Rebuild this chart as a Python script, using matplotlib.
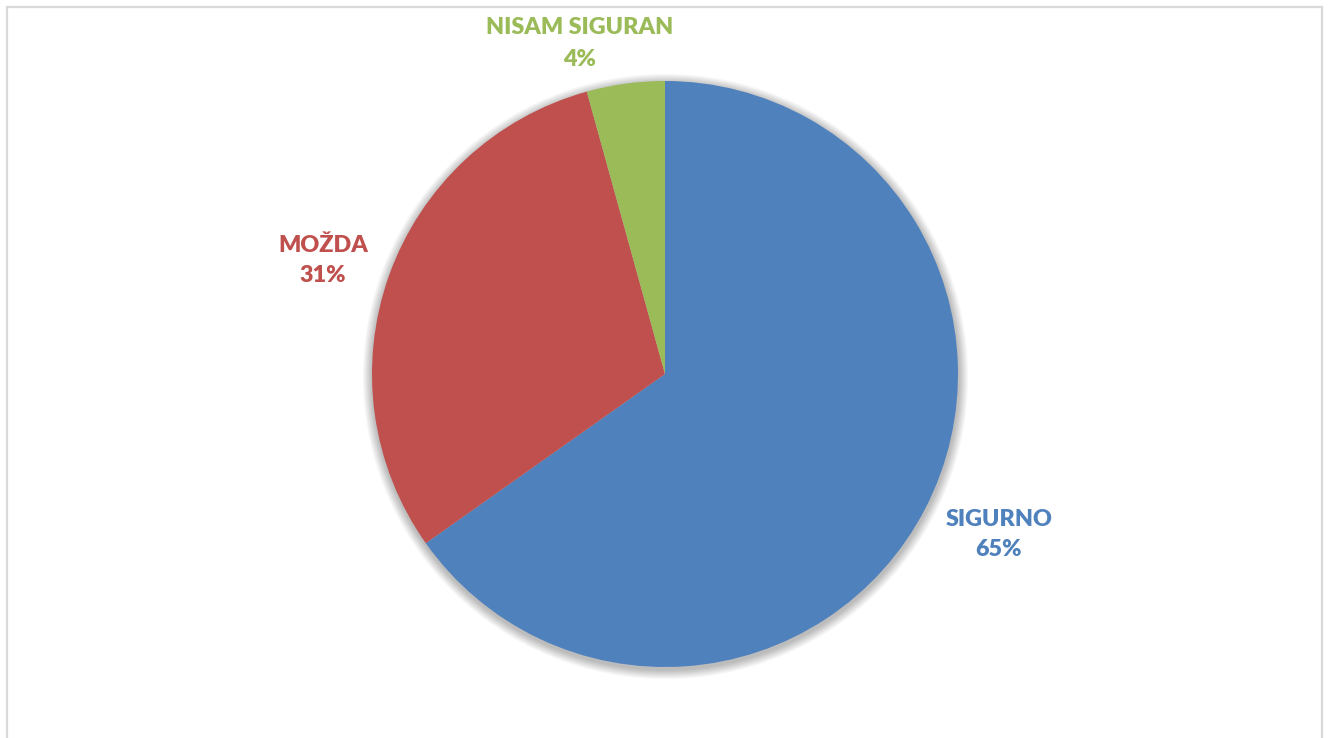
import matplotlib
matplotlib.use("Agg")
import matplotlib.pyplot as plt
from matplotlib.patches import Circle, Rectangle

categories = ["SIGURNO", "MOŽDA", "NISAM SIGURAN"]
values = [65.2, 30.5, 4.3]
pct_labels = ["65%", "31%", "4%"]
colors = ["#4F81BD", "#C0504D", "#9BBB59"]

W, H = 1330, 738
fig = plt.figure(figsize=(W / 100, H / 100), dpi=100)
ax = fig.add_axes([0, 0, 1, 1])
ax.set_xlim(0, W)
ax.set_ylim(0, H)
ax.axis("off")

cx, cy, r = 665, H - 374, 293

# soft shadow
for i in range(14, 0, -1):
    ax.add_patch(Circle((cx + 0.5, cy - 2.5), r + i * 0.7, color="black",
                        alpha=0.018, lw=0, zorder=1))

ax.pie(values, colors=colors, startangle=90, counterclock=False,
       center=(cx, cy), radius=r, frame=True,
       wedgeprops=dict(linewidth=0, zorder=2))
ax.set_xlim(0, W)
ax.set_ylim(0, H)
ax.set_aspect("equal")
ax.axis("off")

# frame border
ax.add_patch(Rectangle((7, -10), 1315, H - 7 + 10, fill=False,
                       edgecolor="#d9d9d9", lw=1.6, zorder=5))

label_pos = [(999, 519, 550), (323, 245, 276), (580, 28, 60)]
for cat, pct, col, (x, y1, y2) in zip(categories, pct_labels, colors, label_pos):
    for txt, yy in ((cat, y1), (pct, y2)):
        t = ax.text(x, H - yy, txt, color=col, fontsize=16.8, fontweight="heavy",
                    family="Lato", ha="center", va="center", zorder=6)

fig.savefig("out.png", dpi=100)
